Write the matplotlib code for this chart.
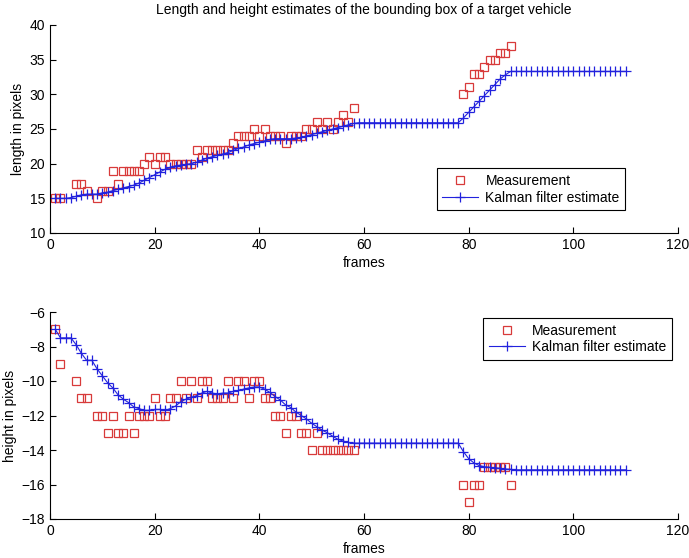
import numpy as np
import matplotlib
matplotlib.use("Agg")
import matplotlib.pyplot as plt

plt.rcParams['font.family'] = ['Liberation Sans', 'DejaVu Sans']

# ---------------- data ----------------
frames = np.arange(1, 111)

meas_frames = [1, 2, 5, 6, 7, 9, 10, 11, 12, 13, 14, 15, 16, 17, 18, 19, 20,
               21, 22, 23, 24, 25, 26, 27, 28, 29, 30, 31, 32, 33, 34, 35, 36,
               37, 38, 39, 40, 41, 42, 43, 44, 45, 46, 47, 48, 49, 50, 51, 52,
               53, 54, 55, 56, 57, 58,
               79, 80, 81, 82, 83, 84, 85, 86, 87, 88]

length_meas = [15, 15, 17, 17, 16, 15, 16, 16, 19, 17, 19, 19, 19, 19, 20, 21, 20,
               21, 21, 20, 20, 20, 20, 20, 22, 21, 22, 22, 22, 22, 22, 23, 24,
               24, 24, 25, 24, 25, 24, 24, 24, 23, 24, 24, 24, 25, 25, 26, 25,
               26, 25, 26, 27, 26, 28,
               30, 31, 33, 33, 34, 35, 35, 36, 36, 37]

height_meas = [-7, -9, -10, -11, -11, -12, -12, -13, -12, -13, -13, -12, -13, -12, -12, -12, -11,
               -12, -12, -11, -11, -10, -11, -10, -11, -10, -10, -11, -11, -11, -10, -11, -10,
               -10, -11, -10, -10, -11, -11, -12, -12, -13, -12, -12, -13, -13, -14, -13, -14,
               -14, -14, -14, -14, -14, -14,
               -16, -17, -16, -16, -15, -15, -15, -15, -15, -16]

length_est = [15.0, 15.0, 15.0, 15.1, 15.3, 15.5, 15.6, 15.6, 15.6, 15.8,
              15.9, 16.1, 16.3, 16.5, 16.7, 16.9, 17.2, 17.6, 18.0, 18.4,
              18.8, 19.2, 19.5, 19.7, 19.8, 19.9, 20.0, 20.2, 20.5, 20.8,
              21.0, 21.2, 21.4, 21.6, 21.9, 22.2, 22.4, 22.7, 22.9, 23.1,
              23.3, 23.5, 23.6, 23.6, 23.6, 23.6, 23.7, 23.8, 24.0, 24.2,
              24.4, 24.6, 24.8, 25.0, 25.2, 25.4, 25.6, 25.8, 25.9, 25.9,
              25.9, 25.9, 25.9, 25.9, 25.9, 25.9, 25.9, 25.9, 25.9, 25.9,
              25.9, 25.9, 25.9, 25.9, 25.9, 25.9, 25.9, 25.9, 26.6, 27.4,
              28.2, 29.0, 29.8, 30.6, 31.4, 32.2, 32.8, 33.3, 33.3, 33.3,
              33.3, 33.3, 33.3, 33.3, 33.3, 33.3, 33.3, 33.3, 33.3, 33.3,
              33.3, 33.3, 33.3, 33.3, 33.3, 33.3, 33.3, 33.3, 33.3, 33.3]

height_est = [-7.0, -7.5, -7.5, -7.5, -7.9, -8.4, -8.8, -8.8, -9.3, -9.7,
              -10.1, -10.4, -10.8, -11.05, -11.25, -11.5, -11.6, -11.7, -11.7, -11.65,
              -11.65, -11.7, -11.6, -11.45, -11.2, -11.05, -10.95, -10.85, -10.7, -10.6,
              -10.7, -10.75, -10.7, -10.7, -10.6, -10.55, -10.47, -10.4, -10.35, -10.35,
              -10.47, -10.66, -10.9, -11.1, -11.38, -11.54, -11.8, -12.0, -12.2, -12.45,
              -12.65, -12.85, -13.0, -13.2, -13.38, -13.48, -13.56, -13.6, -13.6, -13.6,
              -13.6, -13.6, -13.6, -13.6, -13.6, -13.6, -13.6, -13.6, -13.6, -13.6,
              -13.6, -13.6, -13.6, -13.6, -13.6, -13.6, -13.6, -13.6, -14.1, -14.5,
              -14.75, -14.9, -14.97, -15.0, -15.03, -15.06, -15.1, -15.12, -15.15, -15.15,
              -15.15, -15.15, -15.15, -15.15, -15.15, -15.15, -15.15, -15.15, -15.15, -15.15,
              -15.15, -15.15, -15.15, -15.15, -15.15, -15.15, -15.15, -15.15, -15.15, -15.15]

x_ticks = [0, 20, 40, 60, 80, 100, 120]
len_ticks = [10, 15, 20, 25, 30, 35, 40]
h_ticks = [-18, -16, -14, -12, -10, -8, -6]

title = "Length and height estimates of the bounding box of a target vehicle"
leg_labels = ["Measurement", "Kalman filter estimate"]

# ---------------- figure ----------------
W, H = 689, 558
fig = plt.figure(figsize=(W / 100, H / 100), dpi=100)

def pos(l, t, r, b):
    return [l / W, 1 - b / H, (r - l) / W, (b - t) / H]

ax1 = fig.add_axes(pos(50, 25, 678, 233))
ax2 = fig.add_axes(pos(50, 312, 678, 519))

red = '#d83a3a'
blue = '#2222dd'

def style(ax, yticks, ylabel):
    ax.set_xlim(0, 120)
    ax.set_xticks(x_ticks)
    ax.set_ylim(yticks[0], yticks[-1])
    ax.set_yticks(yticks)
    ax.tick_params(direction='in', length=4, labelsize=10, width=0.8)
    for s in ['top', 'right']:
        ax.spines[s].set_visible(False)
    ax.set_xlabel('frames', fontsize=10, labelpad=3)
    ax.set_ylabel(ylabel, fontsize=10, labelpad=3)

for ax, meas, est, yt, yl, loc, anchor in [
        (ax1, length_meas, length_est, len_ticks, 'length in pixels', 'lower right', (0.916, 0.11)),
        (ax2, height_meas, height_est, h_ticks, 'height in pixels', 'upper right', (0.99, 0.971))]:
    ax.plot(meas_frames, meas, linestyle='none', marker='s', markersize=5.2,
            markerfacecolor='none', markeredgecolor=red, markeredgewidth=0.9,
            label=leg_labels[0])
    ax.plot(frames, est, color=blue, linewidth=0.8, marker='+', markersize=7,
            markeredgewidth=0.9, label=leg_labels[1])
    style(ax, yt, yl)
    leg = ax.legend(loc=loc, bbox_to_anchor=anchor, fancybox=False,
                    edgecolor='black', framealpha=1, fontsize=10, numpoints=1,
                    handlelength=2.6, borderpad=0.4, labelspacing=0.2,
                    handletextpad=0.5, borderaxespad=0)
    leg.get_frame().set_linewidth(0.8)

ax1.set_title(title, fontsize=10, pad=8)

fig.savefig('out.png', dpi=100)
